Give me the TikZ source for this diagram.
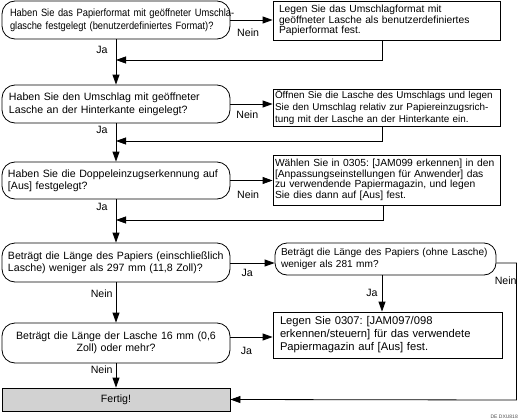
\documentclass[tikz,border=0pt]{standalone}
\usepackage{fontspec}
\setmainfont{Liberation Sans}
\newfontfamily\condfont[FakeStretch=0.88]{Liberation Sans}
\usetikzlibrary{arrows.meta}
\frenchspacing
\begin{document}
\begin{tikzpicture}[x=1pt,y=-1pt,
  base/.style={draw=black, line width=0.8pt, align=left, anchor=center, inner ysep=1pt},
  dec/.style={base, rounded corners=13pt},
  act/.style={base},
  arr/.style={line width=0.8pt, -{Triangle[length=10pt,width=7pt]}},
  ln/.style={line width=0.8pt},
  lbl/.style={font=\fontsize{10.6}{12}\selectfont, inner sep=0pt},
  lblL/.style={lbl, anchor=east, xshift=-8pt},
]
\useasboundingbox (0,0) rectangle (519,420);

% decisions (left column)
\node[dec, minimum width=228pt, minimum height=38pt, text width=212pt, inner xsep=8pt,
  font=\condfont\fontsize{10.6}{13}\selectfont] (d1) at (116,20)
  {\mbox{Haben Sie das Papierformat mit geöffneter Umschla-}\\\mbox{glasche festgelegt (benutzerdefiniertes Format)?}};
\node[dec, minimum width=228pt, minimum height=38pt, text width=214pt, inner xsep=7pt,
  font=\fontsize{10.6}{13}\selectfont] (d2) at (116,104)
  {\mbox{Haben Sie den Umschlag mit geöffneter}\\\mbox{Lasche an der Hinterkante eingelegt?}};
\node[dec, minimum width=228pt, minimum height=37pt, text width=216pt, inner xsep=6pt,
  font=\fontsize{10.6}{12}\selectfont] (d3) at (116,180.5)
  {\mbox{Haben Sie die Doppeleinzugserkennung auf}\\\mbox{[Aus] festgelegt?}};
\node[dec, minimum width=228pt, minimum height=39pt, text width=216pt, inner xsep=6pt,
  font=\fontsize{10.6}{12}\selectfont] (d4) at (116,262.5)
  {\mbox{Beträgt die Länge des Papiers (einschließlich}\\\mbox{Lasche) weniger als 297 mm (11,8 Zoll)?}};
\node[dec, minimum width=228pt, minimum height=40pt, text width=216pt, inner xsep=6pt, align=center,
  font=\fontsize{10.6}{12}\selectfont] (d6) at (116,343)
  {\mbox{Beträgt die Länge der Lasche 16 mm (0,6}\\\mbox{Zoll) oder mehr?}};
\node[act, fill=gray!35, minimum width=228pt, minimum height=23pt, text width=216pt, inner xsep=6pt, align=center,
  font=\fontsize{10.6}{12}\selectfont] (fertig) at (116,399.5) {Fertig!};

% right column
\node[act, minimum width=227pt, minimum height=39pt, text width=215pt, inner xsep=6pt,
  font=\fontsize{10.3}{10.5}\selectfont] (b1) at (386.5,20.5)
  {\mbox{Legen Sie das Umschlagformat mit}\\\mbox{geöffneter Lasche als benutzerdefiniertes}\\\mbox{Papierformat fest.}};
\node[act, minimum width=227pt, minimum height=37pt, text width=223pt, inner xsep=2pt,
  font=\fontsize{9.9}{12}\selectfont] (b2) at (386.5,107.5)
  {\mbox{Öffnen Sie die Lasche des Umschlags und legen}\\\mbox{Sie den Umschlag relativ zur Papiereinzugsrich-}\\\mbox{tung mit der Lasche an der Hinterkante ein.}};
\node[act, minimum width=227pt, minimum height=50pt, text width=223pt, inner xsep=2pt,
  font=\fontsize{10.3}{9.6}\selectfont] (b3) at (386.5,180)
  {\mbox{Wählen Sie in 0305: [JAM099 erkennen] in den}\\\mbox{[Anpassungseinstellungen für Anwender] das}\\\mbox{zu verwendende Papiermagazin, und legen}\\\mbox{Sie dies dann auf [Aus] fest.}};
\node[dec, rounded corners=12pt, minimum width=221pt, minimum height=32pt, text width=209pt, inner xsep=6pt,
  font=\fontsize{10.1}{11.5}\selectfont] (d5) at (385.5,259)
  {\mbox{Beträgt die Länge des Papiers (ohne Lasche)}\\\mbox{weniger als 281 mm?}};
\node[act, minimum width=229pt, minimum height=46pt, text width=215pt, inner xsep=7pt,
  font=\fontsize{11.2}{13}\selectfont] (b4) at (387.5,335)
  {\mbox{Legen Sie 0307: [JAM097/098}\\\mbox{erkennen/steuern] für das verwendete}\\\mbox{Papiermagazin auf [Aus] fest.}};

% junction coordinates on the main line
\coordinate (j1) at (116,60);
\coordinate (j2) at (116,141);
\coordinate (j3) at (116,220);
\coordinate (c1) at (516.5,263);
\coordinate (c2) at (516.5,400);

% main vertical flow
\draw[arr] (d1.south) -- node[lblL, pos=0.24] (l1) {Ja} (d2.north);
\draw[arr] (d2.south) -- node[lblL, pos=0.18] (l2) {Ja} (d3.north);
\draw[arr] (d3.south) -- node[lblL, pos=0.18] (l3) {Ja} (d4.north);
\draw[arr] (d4.south) -- node[lbl, anchor=east, xshift=-3pt, pos=0.27] (l4) {Nein} (d6.north);
\draw[arr] (d6.south) -- node[lbl, anchor=east, xshift=-3pt, pos=0.24] (l5) {Nein} (fertig.north);

% Nein branches
\draw[arr] (d1.east) -- node[lbl, pos=0.42, yshift=-13pt] (l6) {Nein} (d1.east -| b1.west);
\draw[arr] (d2.east) -- node[lbl, pos=0.40, yshift=-11pt] (l7) {Nein} (d2.east -| b2.west);
\draw[arr] (d3.east) -- node[lbl, pos=0.42, yshift=-14pt] (l8) {Nein} (d3.east -| b3.west);

% returns
\draw[arr] ([xshift=-4.5pt]b1.south) |- (j1);
\draw[arr] ([xshift=-4.5pt]b2.south) |- (j2);
\draw[arr] ([xshift=-3.5pt]b3.south) |- (j3);

% length checks
\draw[arr] ([yshift=-0.5pt]d4.east) -- node[lbl, pos=0.38, yshift=-10pt] (l9) {Ja} ([yshift=-0.5pt]d4.east -| d5.west);
\draw[arr] ([xshift=-3.5pt]d5.south) -- node[lbl, anchor=east, xshift=-4pt, pos=0.49] (l10) {Ja} ([xshift=-5.5pt]b4.north);
\draw[arr] ([yshift=6pt]d6.east) -- node[lbl, pos=0.38, yshift=-14pt] (l11) {Ja} ([yshift=6pt]d6.east -| b4.west);
\draw[arr] ([yshift=-4pt]d5.east) -- (c1) -- node[lbl, anchor=east, xshift=0.5pt, pos=0.13] (l12) {Nein} (c2) -- (fertig.east);

% figure code
\node[font=\fontsize{5}{6}\selectfont, text=black!70, anchor=east, inner sep=0pt] (code) at (518,417) {DE DXU818};
\end{tikzpicture}
\end{document}
